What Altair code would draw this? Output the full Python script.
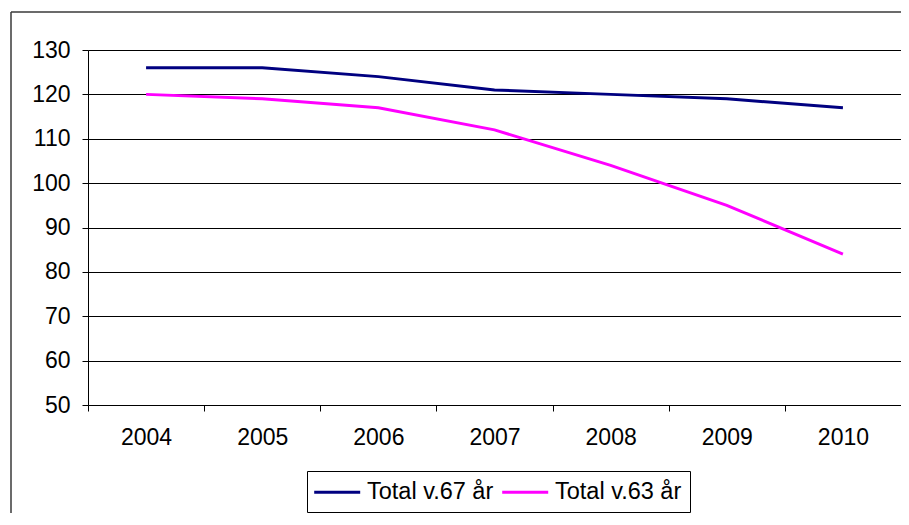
import altair as alt
import pandas as pd

years = ["2004", "2005", "2006", "2007", "2008", "2009", "2010"]
total_v67 = [126, 126, 124, 121, 120, 119, 117]
total_v63 = [120, 119, 117, 112, 104, 95, 84]
series_names = ["Total v.67 år", "Total v.63 år"]
series_colors = ["#000080", "#FF00FF"]
y_ticks = [50, 60, 70, 80, 90, 100, 110, 120, 130]

rows = []
for name, vals in zip(series_names, [total_v67, total_v63]):
    for yr, v in zip(years, vals):
        rows.append({"year": yr, "value": v, "series": name})
df = pd.DataFrame(rows)

FONT = "Liberation Sans"
W, H = 813, 355
BORDER = "#3a3a3a"

frame = alt.Chart(pd.DataFrame({"a": [0]}))
top_border = frame.mark_rule(stroke=BORDER, strokeWidth=1.5).encode(
    x=alt.value(-77), x2=alt.value(W + 20), y=alt.value(-38))
left_border = frame.mark_rule(stroke=BORDER, strokeWidth=1.5).encode(
    x=alt.value(-77), y=alt.value(-38), y2=alt.value(H + 200))

lines = alt.Chart(df).mark_line(strokeWidth=3).encode(
    x=alt.X("year:O", sort=years,
            scale=alt.Scale(paddingInner=0, paddingOuter=0),
            axis=alt.Axis(title=None, labelAngle=0, tickBand="extent",
                          grid=False, domainColor="black", tickColor="black",
                          tickSize=6, labelPadding=15, labelFont=FONT,
                          labelFontSize=23, labelColor="black")),
    y=alt.Y("value:Q",
            scale=alt.Scale(domain=[50, 130], nice=False, zero=False),
            axis=alt.Axis(title=None, values=y_ticks, grid=True,
                          gridColor="black", gridWidth=1, gridOpacity=1,
                          domainColor="black", tickColor="black", tickSize=6,
                          labelPadding=12, labelFont=FONT, labelFontSize=23,
                          labelColor="black")),
    color=alt.Color("series:N",
                    scale=alt.Scale(domain=series_names, range=series_colors),
                    legend=alt.Legend(title=None, orient="none",
                                      legendX=219, legendY=421,
                                      direction="horizontal",
                                      symbolType="M-1.2,0H2.8", symbolSize=529,
                                      symbolStrokeWidth=3,
                                      labelFont=FONT, labelFontSize=23.5,
                                      labelColor="black", labelOffset=26,
                                      columnPadding=2, padding=8,
                                      strokeColor="black")),
    order=alt.Order("year:O"),
)

chart = alt.layer(top_border, left_border, lines).properties(
    width=W, height=H,
    autosize=alt.AutoSizeParams(type="none"),
    padding={"left": 80, "top": 42, "right": 0, "bottom": 108},
).configure_view(stroke=None).configure(background="white")

chart.save("out.html", embed_options={"renderer": "svg", "actions": False})
